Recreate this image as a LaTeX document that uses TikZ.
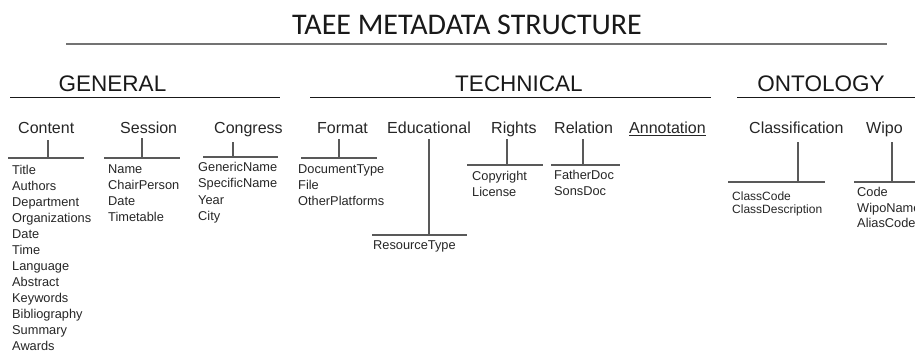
\documentclass[tikz,border=0pt]{standalone}
\usepackage{fontspec}
\setmainfont{Liberation Sans}
\newfontfamily\titlefont{Carlito}
\begin{document}
\begin{tikzpicture}[x=1pt,y=-1pt,
  item/.style={anchor=base west,inner sep=0pt,font=\fontsize{12.8}{14}\selectfont,text=black!85},
  smallitem/.style={item,font=\fontsize{12}{13}\selectfont},
  sub/.style={anchor=base west,inner sep=0pt,font=\fontsize{16}{18}\selectfont,text=black!85},
  sec/.style={anchor=base,inner sep=0pt,font=\fontsize{22.5}{26}\selectfont,text=black!90},
  bar/.style={draw=black!65,line width=1.2pt},
  rule/.style={draw=black!90,line width=1.6pt}]
\useasboundingbox[fill=white] (0,0) rectangle (915,353);

% title
\node[anchor=base,inner sep=0pt,font=\titlefont\fontsize{30}{34}\selectfont,text=black!90] (title) at (467,35) {TAEE METADATA STRUCTURE};
\coordinate (tl) at (66,44); \coordinate (tr) at (887,44);
\draw[draw=black!55,line width=1.8pt] (tl) -- (tr);

% sections
\node[sec] (general) at (112.5,91) {GENERAL};
\node[sec] (technical) at (519,91) {TECHNICAL};
\node[sec] (ontology) at (821,91) {ONTOLOGY};
\coordinate (g1) at (10,97.5); \coordinate (g2) at (280,97.5);
\coordinate (t1) at (310,97.5); \coordinate (t2) at (711,97.5);
\coordinate (o1) at (737,97.5); \coordinate (o2) at (916,97.5);
\draw[rule] (g1) -- (g2);
\draw[rule] (t1) -- (t2);
\draw[rule] (o1) -- (o2);

% subheaders
\node[sub] (content) at (18,133) {Content};
\node[sub] (session) at (120,133) {Session};
\node[sub] (congress) at (214,133) {Congress};
\node[sub] (format) at (317,133) {Format};
\node[sub] (educational) at (387,133) {Educational};
\node[sub] (rights) at (491,133) {Rights};
\node[sub] (relation) at (554,133) {Relation};
\node[sub] (annotation) at (629,133) {Annotation};
\node[sub] (classification) at (749,133) {Classification};
\node[sub] (wipo) at (866,133) {Wipo};
\draw[draw=black!85,line width=0.9pt] ([yshift=-2.5pt]annotation.base west) -- ([yshift=-2.5pt]annotation.base east);

% bars: name, x, top, bottom, left, right
\foreach \n/\x/\t/\b/\l/\r in {content/48/140/158/8/84, session/142/138/158/104/180, congress/233/142/157/203/278,
  format/339/139/158/301/377, educational/429/139/235/372/467, rights/507/139/165/467/543,
  relation/583/139/165/551/620, classification/798/142/182/728/825, wipo/892/142/182/854/916}{
  \coordinate (\n-top) at (\x,\t);
  \coordinate (\n-mid) at (\x,\b);
  \coordinate (\n-left) at (\l,\b);
  \coordinate (\n-right) at (\r,\b);
  \draw[bar] (\n-top) -- (\n-mid);
  \draw[bar] (\n-left) -- (\n-right);
}

% items
\foreach \t [count=\i] in {Title,Authors,Department,Organizations,Date,Time,Language,Abstract,Keywords,Bibliography,Summary,Awards}
  \node[item] (content-\i) at (12,{174+16*(\i-1)}) {\t};
\foreach \t [count=\i] in {Name,ChairPerson,Date,Timetable}
  \node[item] (session-\i) at (108,{173.6+16*(\i-1)}) {\t};
\foreach \t [count=\i] in {GenericName,SpecificName,Year,City}
  \node[item] (congress-\i) at (198,{171.6+16.2*(\i-1)}) {\t};
\foreach \t [count=\i] in {DocumentType,File,OtherPlatforms}
  \node[item] (format-\i) at (298,{173.6+16*(\i-1)}) {\t};
\node[item] (educational-1) at (373,249.6) {ResourceType};
\foreach \t [count=\i] in {Copyright,License}
  \node[item] (rights-\i) at (472,{180.6+16*(\i-1)}) {\t};
\foreach \t [count=\i] in {FatherDoc,SonsDoc}
  \node[item] (relation-\i) at (554,{179.6+16*(\i-1)}) {\t};
\foreach \t [count=\i] in {ClassCode,ClassDescription}
  \node[smallitem] (classification-\i) at (732,{200.3+13.5*(\i-1)}) {\t};
\foreach \t [count=\i] in {Code,WipoName,AliasCode}
  \node[item] (wipo-\i) at (857,{196.6+15.5*(\i-1)}) {\t};
\end{tikzpicture}
\end{document}
